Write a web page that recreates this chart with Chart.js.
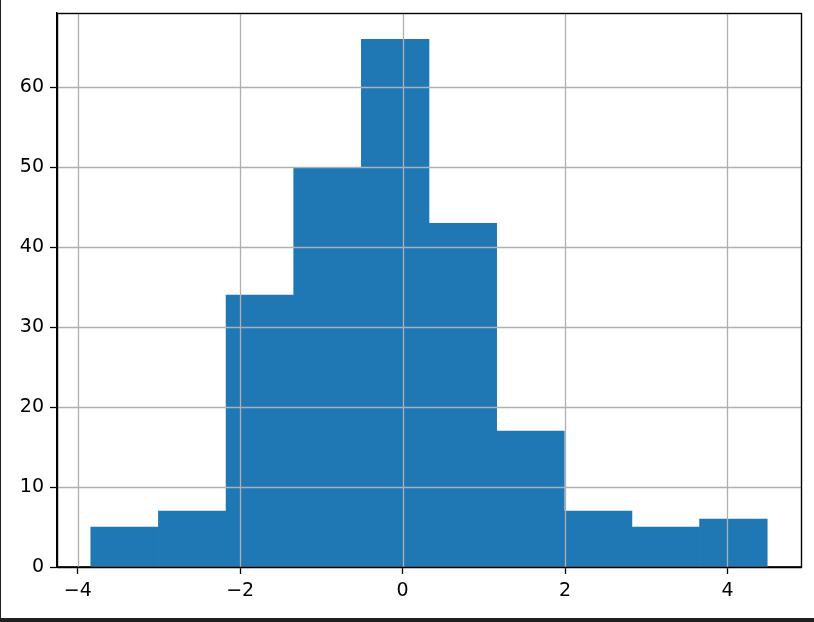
<!DOCTYPE html>
<html>
<head>
<meta charset="utf-8">
<script src="https://cdn.jsdelivr.net/npm/chart.js@4"></script>
<style>
  html, body { margin: 0; padding: 0; background: #1f1f1f; }
  #wrap { position: absolute; left: 1px; top: 0; width: 813px; height: 618px; background: #ffffff; }
  canvas { display: block; }
</style>
</head>
<body>
<div id="wrap"><canvas id="c" width="813" height="618"></canvas></div>
<script>
// Histogram data
const binEdges = [-3.84, -3.007, -2.174, -1.341, -0.508, 0.325, 1.158, 1.991, 2.824, 3.657, 4.49];
const counts   = [5, 7, 34, 50, 66, 43, 17, 7, 5, 6];
const xTicks   = [-4, -2, 0, 2, 4];
const yTicks   = [0, 10, 20, 30, 40, 50, 60];
const xLimits  = [-4.256, 4.906];
const yLimits  = [0, 69.3];

const points = counts.map((c, i) => ({ x: (binEdges[i] + binEdges[i + 1]) / 2, y: c }));

const FONT = { family: 'DejaVu Sans', size: 19 };
const fmt = v => String(v).replace('-', '\u2212');

const overlay = {
  id: 'overlay',
  afterDatasetsDraw(chart) {
    const { ctx, chartArea: a, scales } = chart;
    ctx.save();
    ctx.strokeStyle = '#b0b0b0';
    ctx.lineWidth = 1.3;
    xTicks.forEach(t => {
      const px = Math.round(scales.x.getPixelForValue(t)) + 0.5;
      ctx.beginPath(); ctx.moveTo(px, a.top); ctx.lineTo(px, a.bottom); ctx.stroke();
    });
    yTicks.forEach(t => {
      const py = Math.round(scales.y.getPixelForValue(t)) + 0.5;
      ctx.beginPath(); ctx.moveTo(a.left, py); ctx.lineTo(a.right, py); ctx.stroke();
    });
    ctx.strokeStyle = '#000000';
    ctx.lineWidth = 1.4;
    ctx.strokeRect(Math.round(a.left) + 0.5, Math.round(a.top) + 0.5,
                   Math.round(a.right - a.left), Math.round(a.bottom - a.top));
    ctx.restore();
  }
};

new Chart(document.getElementById('c'), {
  type: 'bar',
  data: {
    datasets: [{
      data: points,
      backgroundColor: '#1f77b4',
      borderWidth: 0,
      barPercentage: 1.0,
      categoryPercentage: 1.0
    }]
  },
  options: {
    responsive: false,
    animation: false,
    layout: { padding: { top: 13, right: 13, left: 0, bottom: 0 } },
    plugins: { legend: { display: false }, tooltip: { enabled: false } },
    scales: {
      x: {
        type: 'linear',
        offset: false,
        min: xLimits[0], max: xLimits[1],
        afterBuildTicks: s => { s.ticks = xTicks.map(v => ({ value: v })); },
        afterFit: s => { s.height = 51; s.paddingLeft = 0; s.paddingRight = 0; },
        grid: { offset: false, drawOnChartArea: false, drawTicks: true, tickLength: 7, tickColor: '#000', tickWidth: 1.3 },
        border: { display: true, color: '#000', width: 1.4 },
        ticks: { font: FONT, color: '#000', padding: 6, maxRotation: 0, autoSkip: false, callback: v => fmt(v) }
      },
      y: {
        type: 'linear',
        offset: false,
        min: yLimits[0], max: yLimits[1],
        afterBuildTicks: s => { s.ticks = yTicks.map(v => ({ value: v })); },
        afterFit: s => { s.width = 56; s.paddingTop = 0; s.paddingBottom = 0; },
        grid: { offset: false, drawOnChartArea: false, drawTicks: true, tickLength: 7, tickColor: '#000', tickWidth: 1.3 },
        border: { display: true, color: '#000', width: 1.4 },
        ticks: { font: FONT, color: '#000', padding: 6, autoSkip: false, callback: v => fmt(v) }
      }
    }
  },
  plugins: [overlay]
});
</script>
</body>
</html>
